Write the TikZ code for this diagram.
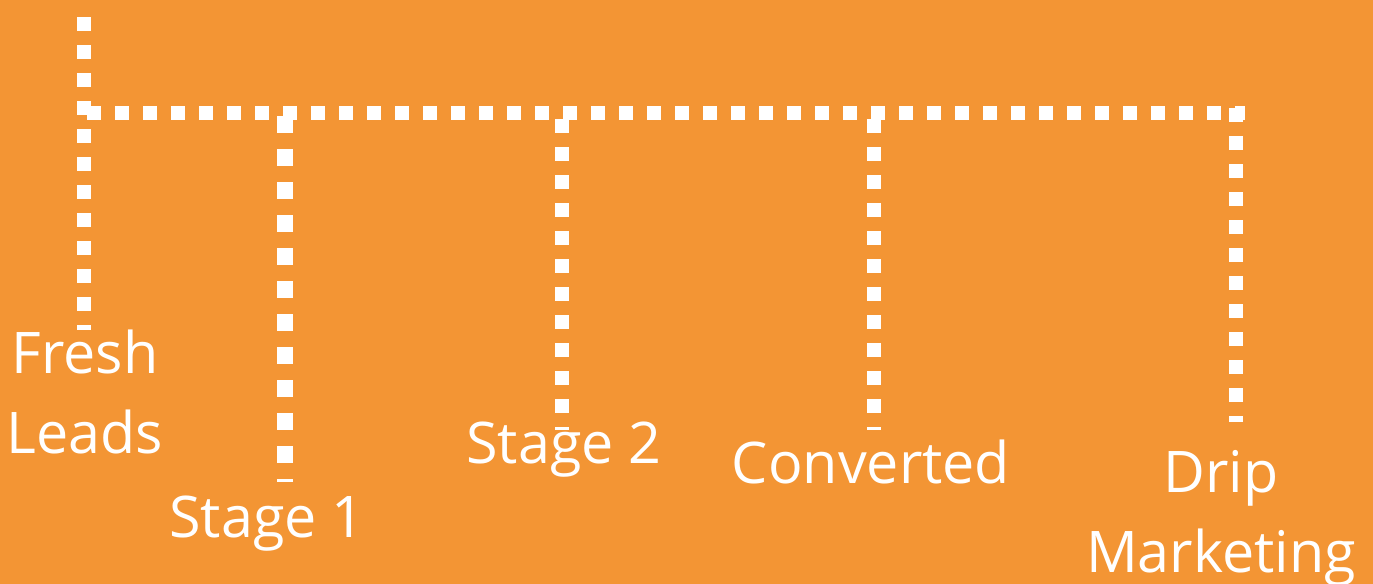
\documentclass[tikz,border=0pt]{standalone}
\usepackage{fontspec}
\setmainfont{Open Sans}
\usepackage{tikz}
\usepackage{xcolor}
\definecolor{funnelorange}{HTML}{F39534}

\begin{document}
\begin{tikzpicture}[x=0.5pt,y=-0.5pt,
  dotline/.style={draw=white,line width=7pt,dash pattern=on 7pt off 7pt},
  stagelabel/.style={text=white,inner sep=0pt,align=center,anchor=base,
    font=\fontsize{28.7}{40}\selectfont}]
  \fill[funnelorange] (0,0) rectangle (1373,584);
  \useasboundingbox (0,0) rectangle (1373,584);
  % line ends
  \coordinate (T) at (84,17);
  \coordinate (F) at (84,330);
  \coordinate (HL) at (87,112.5);
  \coordinate (HR) at (1245,112.5);
  \coordinate (S1top) at (285,116);
  \coordinate (S1) at (285,482);
  \coordinate (S2top) at (562,119);
  \coordinate (S2) at (562,430);
  \coordinate (Ctop) at (874,119);
  \coordinate (C) at (874,430);
  \coordinate (Dtop) at (1236,108);
  \coordinate (D) at (1236,422);
  \draw[dotline] (T)--(F);
  \draw[dotline] (HL)--(HR);
  \draw[dotline,line width=8pt,dash pattern=on 8.7pt off 7.8pt] (S1top)--(S1);
  \draw[dotline] (S2top)--(S2);
  \draw[dotline] (Ctop)--(C);
  \draw[dotline] (Dtop)--(D);
  % the base of a two-line label is its last line
  \node[stagelabel] (fresh) at (85,453) {Fresh\\Leads};
  \node[stagelabel] (stage1) at (267,537) {Stage 1};
  \node[stagelabel] (stage2) at (564,463) {Stage 2};
  \node[stagelabel] (converted) at (871,483) {Converted};
  \node[stagelabel] (drip) at (1221,572) {Drip\\Marketing};
\end{tikzpicture}
\end{document}
